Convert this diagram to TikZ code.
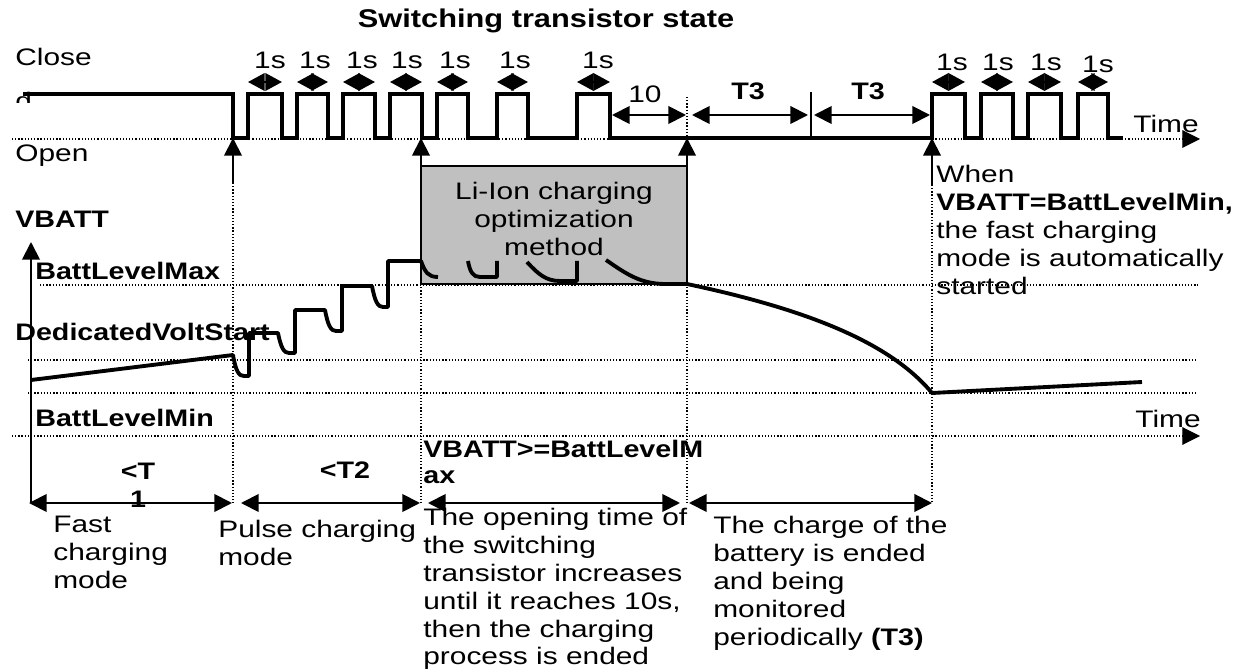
\documentclass[tikz,border=0pt]{standalone}
\usepackage{fontspec}
\setmainfont{Liberation Sans}[FakeStretch=1.25]
\newfontfamily\bfam{Liberation Sans}[FakeStretch=1.2]
\usetikzlibrary{arrows.meta}
\newcommand\bx[1]{{\bfam\bfseries #1}}
\newcommand\dfont{\fontsize{13.6}{15.9}\selectfont}
\definecolor{boxgray}{RGB}{192,192,192}
\begin{document}
\begin{tikzpicture}[x=0.02cm,y=-0.02cm,font=\dfont,
  dot/.style={line width=0.6pt,dash pattern=on 0.7pt off 1.1pt},
  wave/.style={line width=2.4pt,line join=miter},
  curve/.style={line width=2.2pt,line join=round},
  arr/.style={line width=1.1pt,-{Triangle[length=10pt,width=10pt]}},
  darr/.style={line width=1.1pt,{Triangle[length=10pt,width=10pt]}-{Triangle[length=10pt,width=10pt]}},
  sarr/.style={line width=1.1pt,{Triangle[length=9.5pt,width=10pt]}-{Triangle[length=9.5pt,width=10pt]}},
  lbl/.style={inner sep=0pt,anchor=base west},
  clbl/.style={inner sep=0pt,anchor=base},
  blk/.style={inner sep=0pt,anchor=north west,align=left}]
\useasboundingbox (0,0) rectangle (1252,672);

% dotted guide lines
\draw[dot] (687,97) -- (687,138);
\draw[dot] (932,95) -- (932,138);
\draw[dot] (233,183) -- (233,503);
\draw[dot] (421,284) -- (421,503);
\draw[dot] (687,284) -- (687,503);
\draw[dot] (932,185) -- (932,503);
\draw[dot] (40,285) -- (1198,285);
\draw[dot] (28,360) -- (1198,360);
\draw[dot] (28,393) -- (1198,393);
\draw[dot,-{Triangle[length=10pt,width=10pt]}] (12,139) -- (1200,139);
\draw[dot,-{Triangle[length=10pt,width=10pt]}] (12,436) -- (1200,436);

% gray box
\draw[fill=boxgray,line width=0.7pt] (421,166) rectangle (687,284);
\node[blk,align=center,anchor=north] (box) at (554,179.4) {\strut Li-Ion charging\\optimization\\method};

% title
\node[clbl,font=\bfam\bfseries\fontsize{14.6}{17}\selectfont] (title) at (546,28) {Switching transistor state};

% labels left
\node[lbl] (close) at (15,66) {Close};
\begin{scope}
\clip (10,92) rectangle (45,103);
\node[lbl] (closed) at (15,110) {d};
\end{scope}
\node[lbl] (open) at (15,162) {Open};
\node[lbl] (vb) at (15,228) {\bx{VBATT}};
\node[lbl] (bmax) at (35,280) {\bx{BattLevelMax}};
\node[lbl] (dvs) at (15,341) {\bx{DedicatedVoltStart}};
\node[lbl] (bmin) at (35,427) {\bx{BattLevelMin}};
\node[lbl] (time1) at (1133,133) {Time};
\node[lbl] (time2) at (1135,428) {Time};

% switching waveform
\draw[wave] (23,94) -- (233,94) -- (233,138) -- (248,138) -- (248,94) -- (282,94) -- (282,138)
  -- (297,138) -- (297,94) -- (328,94) -- (328,138) -- (343,138) -- (343,94) -- (375,94) -- (375,138)
  -- (390,138) -- (390,94) -- (422,94) -- (422,138) -- (437,138) -- (437,94) -- (468,94) -- (468,138)
  -- (497,138) -- (497,94) -- (528,94) -- (528,138) -- (577,138) -- (577,94) -- (610,94) -- (610,138)
  -- (932,138) -- (932,94) -- (965,94) -- (965,138) -- (981,138) -- (981,94) -- (1013,94) -- (1013,138)
  -- (1028,138) -- (1028,94) -- (1061,94) -- (1061,138) -- (1078,138) -- (1078,94) -- (1108,94) -- (1108,138)
  -- (1123,138);
\draw[line width=1.3pt] (811,92) -- (811,138);

% 1s markers
\foreach \a/\b in {248/282,297/328,343/375,390/422,437/468,497/528,577/610,932/965,981/1013,1028/1061,1078/1108}
  \draw[sarr] (\a,82) -- (\b,82);
\foreach \c in {270,315,362,407,455,515,598}
  \node[clbl] (s\c) at (\c,69) {1s};
\foreach \c/\y in {952/71,998/71,1046/71,1098/73}
  \node[clbl] (s\c) at (\c,\y) {1s};

% 10 / T3 dimensions
\draw[darr] (612,115) -- (686,115);
\node[clbl] (ten) at (645,103) {10};
\draw[darr] (692,115) -- (808,115);
\node[clbl] (t3a) at (748,100) {\bx{T3}};
\draw[darr] (814,115) -- (930,115);
\node[clbl] (t3b) at (868,100) {\bx{T3}};

% up arrows
\draw[arr] (233,183) -- (233,138);
\draw[arr] (421,166) -- (421,138);
\draw[arr] (687,166) -- (687,138);
\draw[arr] (932,185) -- (932,138);

% VBATT axis
\draw[arr] (31,503) -- (31,242);

% VBATT curve
\draw[curve] (31,380) -- (233,355) .. controls (236,372) and (239,376) .. (244,376) -- (249,376) -- (249,333)
  -- (278,333) .. controls (281,348) and (284,353) .. (289,353) -- (295,353) -- (295,310)
  -- (325,310) .. controls (328,326) and (331,331) .. (336,331) -- (342,331) -- (342,286)
  -- (372,286) .. controls (375,302) and (378,307) .. (383,307) -- (388,307) -- (388,261)
  -- (421,261) .. controls (425,272) and (428,277) .. (438,277);
\draw[curve] (468,261) .. controls (470,272) and (473,277) .. (480,277) -- (497,277) -- (497,261);
\draw[curve] (527,262) .. controls (538,274) and (546,281) .. (560,281) -- (577,281) -- (577,261);
\draw[curve] (606,260) .. controls (625,273) and (640,284) .. (665,284) -- (687,284)
  .. controls (800,308) and (888,340) .. (932,393) -- (1142,382);

% right annotation
\node[blk] (when) at (936,162.4) {\strut When\\\bx{VBATT=BattLevelMin,}\\the fast charging\\mode is automatically\\started};

% bottom dimension arrows
\draw[darr] (29,503) -- (232,503);
\draw[darr] (241,503) -- (420,503);
\draw[darr] (428,503) -- (680,503);
\draw[darr] (689,503) -- (932,503);

\node[blk,align=center,anchor=north] (t1) at (138,459.4) {\strut\bx{<T}\\\bx{1}};
\node[clbl] (t2) at (345,479) {\bx{<T2}};
\node[blk,font=\fontsize{13.6}{14.8}\selectfont] (vmax) at (423,438.7) {\strut\bx{VBATT>=BattLevelM}\\\bx{ax}};

\node[blk] (fast) at (53,512.4) {\strut Fast\\charging\\mode};
\node[blk] (pulse) at (218,517.4) {\strut Pulse charging\\mode};
\node[blk] (opening) at (423,505.4) {\strut The opening time of\\the switching\\transistor increases\\until it reaches 10s,\\then the charging\\process is ended};
\node[blk] (ended) at (713,513.4) {\strut The charge of the\\battery is ended\\and being\\monitored\\periodically \bx{(T3)}};
\end{tikzpicture}
\end{document}
